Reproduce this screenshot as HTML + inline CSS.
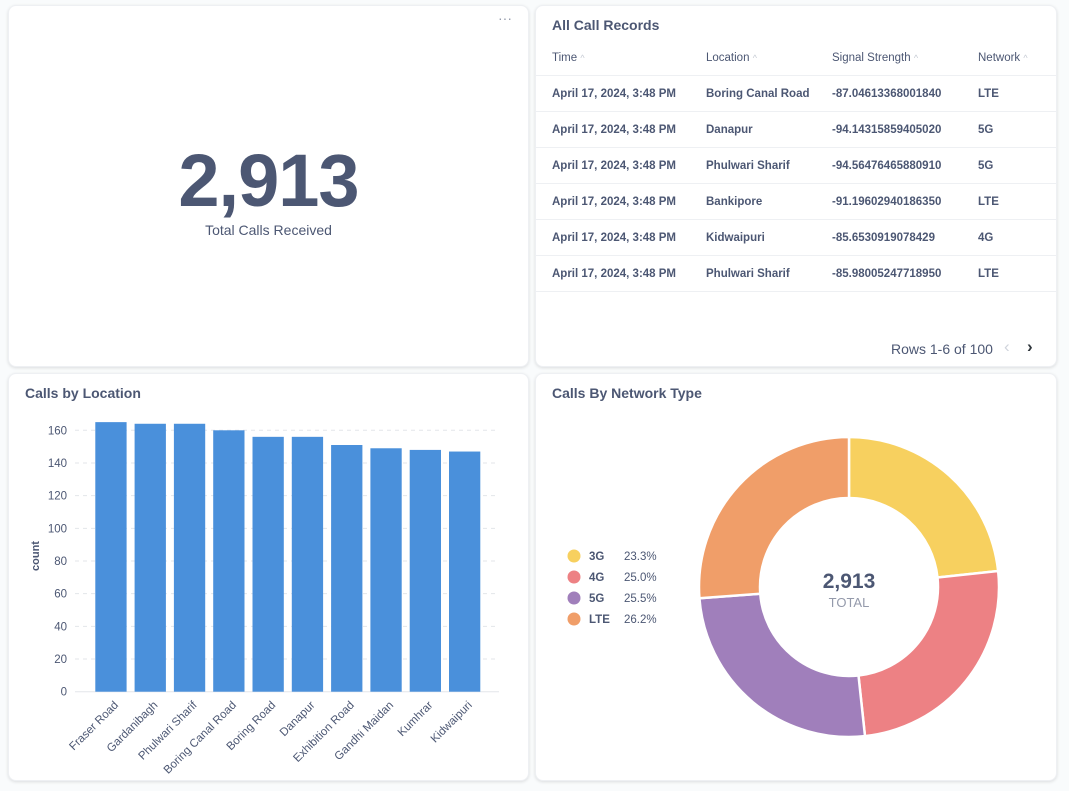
<!DOCTYPE html>
<html><head><meta charset="utf-8"><style>
body{margin:0;width:1069px;height:791px;background:#f9fbfc;font-family:"Liberation Sans",sans-serif;color:#4c5773;position:relative;overflow:hidden}
.card{position:absolute;background:#fff;border-radius:8px;box-shadow:0 1px 3px rgba(0,0,0,.12);border:1px solid #eef0f3}
.title{position:absolute;left:16px;top:11px;font-size:14px;font-weight:bold;color:#4c5773}
table{position:absolute;left:0;top:35px;border-collapse:collapse;font-size:11.5px}
th{font-weight:normal;color:#4c5773;text-align:left;height:34px;padding:0 0 0 16px;border-bottom:1px solid #eef0f3}
td{font-weight:bold;height:35px;padding:0 0 0 16px;border-bottom:1px solid #eef0f3;color:#4c5773}
th span{color:#c5cad3;font-size:9px}
</style></head><body>
<div class="card" style="left:8px;top:5px;width:519px;height:360px">
  <div style="position:absolute;right:16px;top:4px;color:#949aab;font-size:14px">···</div>
  <div style="position:absolute;left:0;width:519px;top:132px;text-align:center;font-size:74px;font-weight:bold;color:#4c5773;letter-spacing:-1px">2,913</div>
  <div style="position:absolute;left:0;width:519px;top:216px;text-align:center;font-size:14px;color:#4c5773">Total Calls Received</div>
</div>
<div class="card" style="left:535px;top:5px;width:520px;height:360px;overflow:hidden">
  <div class="title">All Call Records</div>
  <table style="width:520px">
    <tr><th style="width:138px">Time <span>^</span></th><th style="width:110px">Location <span>^</span></th><th style="width:130px">Signal Strength <span>^</span></th><th>Network <span>^</span></th></tr>
    <tr><td>April 17, 2024, 3:48 PM</td><td>Boring Canal Road</td><td>-87.04613368001840</td><td>LTE</td></tr>
    <tr><td>April 17, 2024, 3:48 PM</td><td>Danapur</td><td>-94.14315859405020</td><td>5G</td></tr>
    <tr><td>April 17, 2024, 3:48 PM</td><td>Phulwari Sharif</td><td>-94.56476465880910</td><td>5G</td></tr>
    <tr><td>April 17, 2024, 3:48 PM</td><td>Bankipore</td><td>-91.19602940186350</td><td>LTE</td></tr>
    <tr><td>April 17, 2024, 3:48 PM</td><td>Kidwaipuri</td><td>-85.6530919078429</td><td>4G</td></tr>
    <tr><td>April 17, 2024, 3:48 PM</td><td>Phulwari Sharif</td><td>-85.98005247718950</td><td>LTE</td></tr>
  </table>
  <div style="position:absolute;left:355px;top:335px;font-size:14px;color:#4c5773">Rows 1-6 of 100</div>
  <div style="position:absolute;left:468px;top:331px;font-size:17px;color:#d0d4dc">‹</div>
  <div style="position:absolute;left:491px;top:331px;font-size:17px;color:#2e353b;font-weight:bold">›</div>
</div>
<div class="card" style="left:8px;top:373px;width:519px;height:406px">
  <div class="title">Calls by Location</div>
</div>
<svg id="bar" style="position:absolute;left:0;top:0" width="530" height="791"></svg>
<div class="card" style="left:535px;top:373px;width:520px;height:406px">
  <div class="title">Calls By Network Type</div>
</div>
<svg id="donut" style="position:absolute;left:536px;top:373px" width="520" height="406"></svg>
<script>
const cats=["Fraser Road","Gardanibagh","Phulwari Sharif","Boring Canal Road","Boring Road","Danapur","Exhibition Road","Gandhi Maidan","Kumhrar","Kidwaipuri"];
const counts=[165,164,164,160,156,156,151,149,148,147];
const yTicks=[0,20,40,60,80,100,120,140,160];
const netLabels=["3G","4G","5G","LTE"];
const netPct=[23.3,25.0,25.5,26.2];
const netColors=["#f7d05f","#ed8184","#a07fbb","#f09e69"];
const NS="http://www.w3.org/2000/svg";
function mk(p,t,a){const e=document.createElementNS(NS,t);for(const k in a)e.setAttribute(k,a[k]);p.appendChild(e);return e;}
const bar=document.getElementById('bar');
const x0=75,x1=499,yb=691.7,ppu=(691.7-430.3)/160;
const y=v=>yb-v*ppu;
const bw=31.3;
yTicks.forEach(t=>{
  if(t>0){const l=mk(bar,'line',{x1:x0,x2:x1,y1:y(t),y2:y(t),stroke:'#e3e6ea','stroke-dasharray':'4 4'});
  
  }
  const tx=mk(bar,'text',{x:67,y:y(t)+4,'text-anchor':'end','font-size':11.5,fill:'#4c5773'});tx.textContent=t;
  
  
});
const ax=mk(bar,'line',{x1:x0,x2:x1,y1:yb,y2:yb,stroke:'#e3e6ea'});


const yt=mk(bar,'text',{x:0,y:0,transform:'translate(39,556) rotate(-90)','text-anchor':'middle','font-size':11,'font-weight':'bold',fill:'#4c5773'});yt.textContent='count';


cats.forEach((c,i)=>{
  const bx=x0+20.3+i*39.3;
  const r=mk(bar,'rect',{x:bx,y:y(counts[i]),width:bw,height:yb-y(counts[i]),fill:'#4a90db'});
  
  
  const cx=bx+bw/2+8;
  const t=mk(bar,'text',{x:0,y:0,transform:`translate(${cx},${yb+14}) rotate(-45)`,'text-anchor':'end','font-size':11.5,fill:'#4c5773'});t.textContent=c;
  
  
});
const d=document.getElementById('donut');
const cx=313,cy=214,R=150,r0=89;
let a=0;const tot=netPct.reduce((s,v)=>s+v,0);
netPct.forEach((p,i)=>{
  const a1=a+p/tot*2*Math.PI;
  const pt=(rr,ang)=>[cx+rr*Math.sin(ang),cy-rr*Math.cos(ang)];
  const [ax1,ay1]=pt(R,a),[ax2,ay2]=pt(R,a1),[bx1,by1]=pt(r0,a1),[bx2,by2]=pt(r0,a);
  const lg=(a1-a)>Math.PI?1:0;
  const s=mk(d,'path',{d:`M${ax1},${ay1}A${R},${R} 0 ${lg} 1 ${ax2},${ay2}L${bx1},${by1}A${r0},${r0} 0 ${lg} 0 ${bx2},${by2}Z`,fill:netColors[i],stroke:'#fff','stroke-width':2.5});
  
  
  a=a1;
  const ly=183+i*21;
  const dot=mk(d,'circle',{cx:38,cy:ly,r:6.5,fill:netColors[i]});
  
  
  const t1=mk(d,'text',{x:53,y:ly+4,'font-size':11.5,'font-weight':'bold',fill:'#4c5773'});t1.textContent=netLabels[i];
  
  
  const t2=mk(d,'text',{x:88,y:ly+4,'font-size':11.5,fill:'#4c5773'});t2.textContent=p.toFixed(1)+'%';
  
  
});
const ct=mk(d,'text',{x:cx,y:cy+1,'text-anchor':'middle','font-size':21,'font-weight':'bold',fill:'#4c5773'});ct.textContent='2,913';


const cl=mk(d,'text',{x:cx,y:cy+20,'text-anchor':'middle','font-size':13,fill:'#949aab'});cl.textContent='TOTAL';


</script>
</body></html>
